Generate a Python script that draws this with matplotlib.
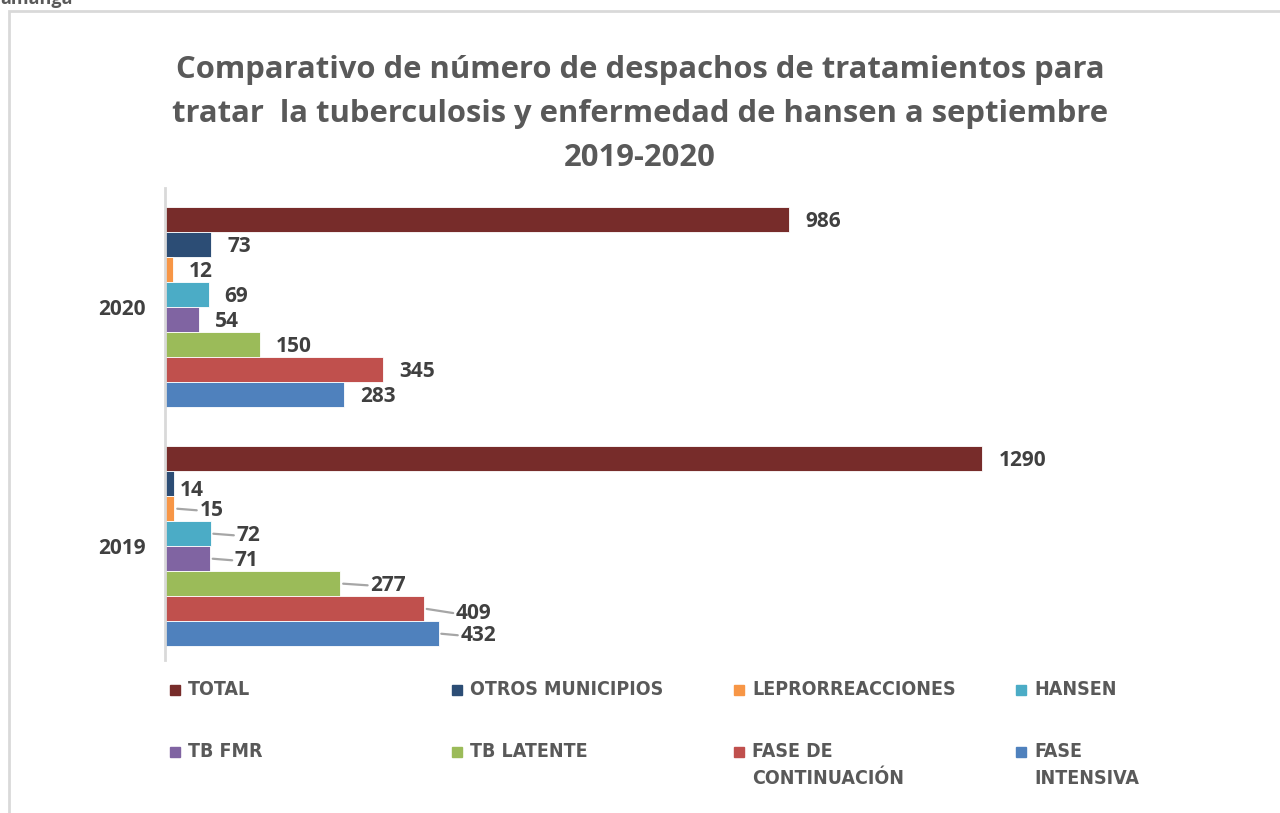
import numpy as np
import matplotlib.pyplot as plt
from matplotlib.patches import Rectangle
from matplotlib import font_manager

# data: series from top of each group to bottom
years = ['2019', '2020']
series = ['TOTAL', 'OTROS MUNICIPIOS', 'LEPRORREACCIONES', 'HANSEN',
          'TB FMR', 'TB LATENTE', 'FASE DE\nCONTINUACIÓN', 'FASE\nINTENSIVA']
vals_2019 = [1290, 14, 15, 72, 71, 277, 409, 432]
vals_2020 = [986, 73, 12, 69, 54, 150, 345, 283]
colors = ['#772C2A', '#2C4D75', '#F79646', '#4BACC6',
          '#8064A2', '#9BBB59', '#C0504D', '#4F81BD']

# label placement for 2019 (pixels from bar end), leader lines in Excel style
dx_2019 = [17, 6, 25, 26, 25, 30, 32, 22]
dy_2019 = [-2, -7, -2, -2, -2, -2, -5, -2]
lead_2019 = [False, False, True, True, True, True, True, True]

# condensed face for the legend if there is one
names = {f.name for f in font_manager.fontManager.ttflist}
leg_fam = [f for f in ['DejaVu Sans Condensed', 'Liberation Sans Narrow'] if f in names] + ['DejaVu Sans']

fig = plt.figure(figsize=(12.8, 8.13), dpi=100)
ax = fig.add_axes([165/1280, 1-660/813, 1015/1280, 472/813])

h = 0.1046
n = len(series)
for i in range(n):
    off = (n - 1) / 2 * h - i * h
    v = [vals_2019[i], vals_2020[i]]
    ax.barh(np.arange(2) + off, v, height=h, color=colors[i], edgecolor='white', linewidth=0.6)
    # 2020 labels
    ax.annotate(str(vals_2020[i]), xy=(vals_2020[i], 1 + off), xytext=(16, -2),
                textcoords='offset pixels', ha='left', va='center',
                fontsize=15, fontweight='bold', color='#404040', family='Open Sans')
    # 2019 labels
    if lead_2019[i]:
        ap = dict(arrowstyle='-', color='#A6A6A6', lw=1.6, shrinkA=0, shrinkB=2,
                  relpos=(0, 0.5))
    else:
        ap = None
    ax.annotate(str(vals_2019[i]), xy=(vals_2019[i], 0 + off),
                xytext=(dx_2019[i], dy_2019[i]), textcoords='offset pixels',
                ha='left', va='center', fontsize=15, fontweight='bold',
                color='#404040', family='Open Sans', arrowprops=ap)

ax.set_xlim(0, 1603)
ax.set_ylim(-0.477, 1.498)
ax.set_yticks([0, 1])
ax.set_yticklabels(years, fontsize=15, fontweight='bold', color='#404040', family='Open Sans')
ax.tick_params(axis='y', length=0, pad=14)
ax.set_xticks([])
for s in ['top', 'right', 'bottom']:
    ax.spines[s].set_visible(False)
ax.spines['left'].set_color('#D9D9D9')
ax.spines['left'].set_linewidth(2)

# title
fig.text(0.5, 1 - 114/813,
         'Comparativo de número de despachos de tratamientos para\n'
         'tratar  la tuberculosis y enfermedad de hansen a septiembre\n2019-2020',
         ha='center', va='center', fontsize=22.3, fontweight='bold', color='#595959',
         family='Open Sans', linespacing=1.6)

# legend, 4 columns x 2 rows
col_x = [170, 452, 734, 1016]
row_y = [690, 752]
for i in range(n):
    x = col_x[i % 4]
    y = row_y[i // 4]
    fig.patches.append(Rectangle((x/1280, 1 - (y + 5)/813), 10/1280, 10/813,
                                 transform=fig.transFigure, color=colors[i]))
    fig.text((x + 18)/1280, 1 - (y - 10)/813, series[i], ha='left', va='top',
             fontsize=14, fontweight='bold', color='#595959', fontstretch='condensed',
             family=leg_fam, linespacing=1.5)

# chart frame and cropped header text
fig.patches.append(Rectangle((9/1280, -0.1), 1.2, 1 - 11/813 + 0.1, transform=fig.transFigure,
                             fill=False, edgecolor='#D9D9D9', linewidth=2))
fig.text(0.0, 1 - 4/813, 'amanga', ha='left', va='baseline', fontsize=13,
         fontweight='bold', color='#595959', family='Open Sans')

fig.savefig('out.png', dpi=100)
